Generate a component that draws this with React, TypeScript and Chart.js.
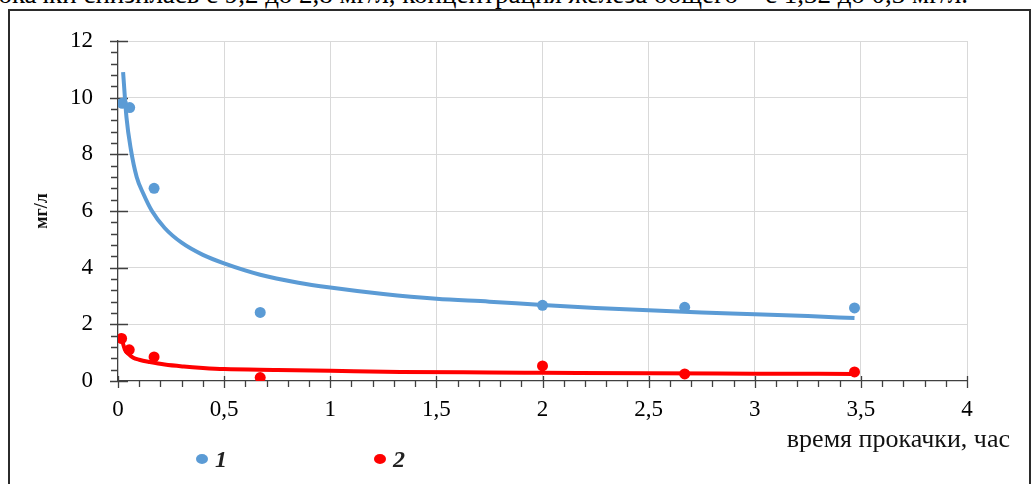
import React, { useEffect, useRef } from 'react';
import { Chart, registerables } from 'chart.js';

Chart.register(...registerables);

// measured points, series 1 (blue) and 2 (red)
const blueX = [0.02, 0.055, 0.17, 0.67, 2.0, 2.67, 3.47];
const blueY = [9.8, 9.65, 6.8, 2.42, 2.67, 2.6, 2.58];
const redX = [0.017, 0.053, 0.17, 0.67, 2.0, 2.67, 3.47];
const redY = [1.5, 1.1, 0.85, 0.12, 0.53, 0.25, 0.32];

// trend lines
const blueTrendX = [0.024, 0.04, 0.06, 0.088, 0.12, 0.16, 0.22, 0.3, 0.4, 0.5, 0.67, 0.85, 1.0, 1.25, 1.5, 1.75, 2.0, 2.25, 2.5, 2.75, 3.0, 3.25, 3.47];
const blueTrendY = [10.9, 9.3, 8.2, 7.2, 6.6, 6.0, 5.4, 4.88, 4.45, 4.15, 3.75, 3.47, 3.3, 3.07, 2.9, 2.8, 2.68, 2.58, 2.5, 2.42, 2.36, 2.29, 2.22];
const redTrendX = [0.017, 0.033, 0.05, 0.072, 0.1, 0.15, 0.22, 0.31, 0.4, 0.5, 0.75, 1.0, 1.33, 1.75, 2.0, 2.5, 3.0, 3.47];
const redTrendY = [1.5, 1.1, 0.95, 0.82, 0.75, 0.67, 0.58, 0.51, 0.46, 0.42, 0.39, 0.36, 0.32, 0.3, 0.29, 0.27, 0.26, 0.25];

const xMin = 0, xMax = 4, xStep = 0.5;
const yMin = 0, yMax = 12, yStep = 2;
const legendLabels = ['1', '2'];
const yTitle = 'мг/л';
const xTitle = 'время прокачки, час';
const topText = 'Концентрация марганца за время прокачки снизилась с 9,2 до 2,8 мг/л, концентрация железа общего – с 1,32 до 0,3 мг/л.';

const BLUE = '#5b9bd5';
const RED = '#ff0000';
const SERIF = "'Liberation Serif', 'Times New Roman', serif";

const zip = (xs: number[], ys: number[]) => xs.map((x, i) => ({ x, y: ys[i] }));

const tickPlugin = {
  id: 'minorTicks',
  beforeDatasetsDraw(chart: any) {
    const { ctx } = chart;
    const xs = chart.scales.x;
    const ys = chart.scales.y;
    const x0 = xs.getPixelForValue(xMin);
    const y0 = ys.getPixelForValue(yMin);
    ctx.save();
    ctx.strokeStyle = '#404040';
    ctx.lineWidth = 1.3;
    ctx.beginPath();
    const yMinorCount = Math.round((yMax - yMin) / yStep) * 5;
    for (let i = 0; i <= yMinorCount; i++) {
      const v = yMin + (i * yStep) / 5;
      const p = Math.round(ys.getPixelForValue(v)) + 0.5;
      if (i % 5 === 0) {
        ctx.moveTo(x0 - 8, p);
        ctx.lineTo(x0 + 10, p);
      } else {
        ctx.moveTo(x0 - 7, p);
        ctx.lineTo(x0, p);
      }
    }
    const xMinorCount = Math.round((xMax - xMin) / xStep) * 5;
    for (let i = 0; i <= xMinorCount; i++) {
      const v = xMin + (i * xStep) / 5;
      const p = Math.round(xs.getPixelForValue(v)) + 0.5;
      if (i % 5 === 0) {
        ctx.moveTo(p, y0 - 5);
        ctx.lineTo(p, y0 + 7);
      } else {
        ctx.moveTo(p, y0);
        ctx.lineTo(p, y0 + 6);
      }
    }
    ctx.stroke();
    ctx.restore();
  },
};

export default function App() {
  const ref = useRef<HTMLCanvasElement | null>(null);

  useEffect(() => {
    if (!ref.current) return;
    const chart = new Chart(ref.current, {
      type: 'scatter',
      data: {
        datasets: [
          {
            label: legendLabels[0],
            data: zip(blueX, blueY),
            backgroundColor: BLUE,
            borderColor: BLUE,
            pointRadius: 5.5,
            pointBorderWidth: 0,
          },
          {
            label: legendLabels[1],
            data: zip(redX, redY),
            backgroundColor: RED,
            borderColor: RED,
            pointRadius: 5.5,
            pointBorderWidth: 0,
          },
          {
            label: 'trend1',
            data: zip(blueTrendX, blueTrendY),
            showLine: true,
            borderColor: BLUE,
            borderWidth: 4,
            pointRadius: 0,
            cubicInterpolationMode: 'monotone',
          } as any,
          {
            label: 'trend2',
            data: zip(redTrendX, redTrendY),
            showLine: true,
            borderColor: RED,
            borderWidth: 4,
            pointRadius: 0,
            cubicInterpolationMode: 'monotone',
          } as any,
        ],
      },
      options: {
        animation: false,
        responsive: false,
        events: [],
        layout: { padding: { left: 0, right: 68, top: 41, bottom: 0 } },
        plugins: {
          legend: { display: false },
          tooltip: { enabled: false },
        },
        scales: {
          x: {
            type: 'linear',
            min: xMin,
            max: xMax,
            afterFit: (s: any) => { s.height = 103; },
            ticks: {
              stepSize: xStep,
              padding: 15,
              color: '#000',
              font: { family: SERIF, size: 23 },
              callback: (v: any) => String(v).replace('.', ','),
            },
            grid: {
              color: (c: any) => (c.tick && c.tick.value === xMin ? 'rgba(0,0,0,0)' : '#d9d9d9'),
              lineWidth: 1,
              drawTicks: false,
            },
            border: { display: true, color: '#404040', width: 1.3 },
          },
          y: {
            type: 'linear',
            min: yMin,
            max: yMax,
            afterFit: (s: any) => { s.width = 118; },
            ticks: {
              stepSize: yStep,
              padding: 25,
              color: '#000',
              font: { family: SERIF, size: 23 },
            },
            grid: {
              color: (c: any) => (c.tick && c.tick.value === yMin ? 'rgba(0,0,0,0)' : '#d9d9d9'),
              lineWidth: 1,
              drawTicks: false,
            },
            border: { display: true, color: '#404040', width: 1.3 },
            title: {
              display: true,
              text: yTitle,
              color: '#111',
              font: { family: SERIF, size: 18, weight: 'bold' },
              padding: { top: 32, bottom: 0 },
            },
          },
        },
      },
      plugins: [tickPlugin],
    } as any);
    return () => chart.destroy();
  }, []);

  return (
    <div
      style={{
        position: 'absolute',
        left: 0,
        top: 0,
        width: 1035,
        height: 484,
        overflow: 'hidden',
        background: '#fff',
      }}
    >
      <div
        style={{
          position: 'absolute',
          right: 67,
          top: -19,
          whiteSpace: 'nowrap',
          fontFamily: SERIF,
          fontSize: 27,
          lineHeight: '27px',
          color: '#000',
        }}
      >
        {topText}
      </div>
      <div
        style={{
          position: 'absolute',
          left: 8,
          top: 9,
          width: 1023,
          height: 520,
          border: '2px solid #2b2b2b',
          boxSizing: 'border-box',
        }}
      />
      <canvas
        ref={ref}
        width={1035}
        height={484}
        style={{ position: 'absolute', left: 0, top: 0, width: 1035, height: 484 }}
      />
      <div
        style={{
          position: 'absolute',
          right: 25,
          top: 424,
          whiteSpace: 'nowrap',
          fontFamily: SERIF,
          fontSize: 26,
          lineHeight: '30px',
          color: '#111',
        }}
      >
        {xTitle}
      </div>
      {[BLUE, RED].map((c, i) => (
        <div
          key={i}
          style={{
            position: 'absolute',
            left: i === 0 ? 196 : 374,
            top: 446,
            display: 'flex',
            alignItems: 'center',
            fontFamily: SERIF,
            fontSize: 24,
            lineHeight: '26px',
            fontStyle: 'italic',
            fontWeight: 'bold',
            color: '#222',
          }}
        >
          <span
            style={{
              display: 'inline-block',
              width: 12,
              height: 10,
              borderRadius: '50%',
              background: c,
              marginRight: 7,
            }}
          />
          <span>{legendLabels[i]}</span>
        </div>
      ))}
    </div>
  );
}
